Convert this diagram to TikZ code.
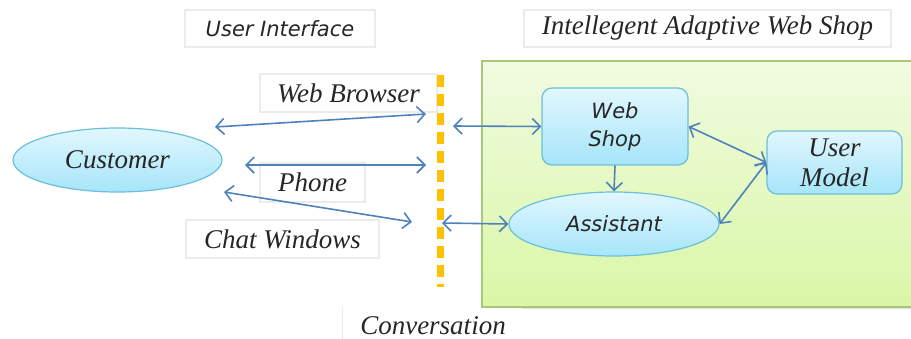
\documentclass[tikz,border=0pt]{standalone}
\usepackage{fontspec}
\setmainfont{Liberation Serif}
\newfontfamily\sansit{DejaVu Sans}
\usetikzlibrary{shapes.geometric,arrows.meta}
\definecolor{flecha}{HTML}{4F81BD}
\definecolor{borde}{HTML}{6DBFD8}
\definecolor{celesteA}{HTML}{E1F7FE}
\definecolor{celesteB}{HTML}{A6E5F9}
\definecolor{verdeA}{HTML}{F1FBE1}
\definecolor{verdeB}{HTML}{D9F7A6}
\definecolor{verdeborde}{HTML}{A9C97A}
\definecolor{naranja}{HTML}{FFC000}
\tikzset{
  serif/.style={font=\fontsize{13.5}{15}\selectfont\itshape},
  sans/.style={font=\sansit\fontsize{10.5}{14}\selectfont\itshape},
  etiqueta/.style={draw=gray!16,line width=0.6pt,inner sep=0,text=black!85},
  burbuja/.style={ellipse,draw=borde,line width=0.6pt,top color=celesteA,bottom color=celesteB,inner sep=0,text=black!85},
  caja/.style={rectangle,rounded corners=5pt,draw=borde,line width=0.6pt,top color=celesteA,bottom color=celesteB,inner sep=0,align=center,text=black!85},
  enlace/.style={draw=flecha,line width=0.8pt,{Straight Barb[length=4pt,width=8pt]}-{Straight Barb[length=4pt,width=8pt]}},
  directo/.style={draw=flecha,line width=0.8pt,-{Straight Barb[length=4pt,width=8pt]}}
}
\begin{document}
\begin{tikzpicture}[x=0.5pt,y=-0.5pt]
    \useasboundingbox (0,0) rectangle (911,338);
    \clip (0,0) rectangle (911,338);

    % caja de la tienda
    \fill[gray!25] (522,305) rectangle (930,309);
    \draw[draw=verdeborde,line width=0.8pt,top color=verdeA,bottom color=verdeB] (482,61) rectangle (930,307);

    % titulos
    \node[etiqueta,sans,minimum width=95pt,minimum height=18.5pt] (ui) at (280,28.5) {User Interface};
    \node[etiqueta,serif,minimum width=183.5pt,minimum height=18.5pt] (iaws) at (707.5,28.5) {Intellegent Adaptive Web Shop};
    \node[etiqueta,serif,minimum width=88.5pt,minimum height=19pt] (wb) at (348.5,93) {Web Browser};
    \node[etiqueta,serif,minimum width=52.5pt,minimum height=19.5pt] (ph) at (312.5,182.5) {Phone};
    \node[etiqueta,serif,minimum width=96.5pt,minimum height=19pt] (cw) at (282.5,239) {Chat Windows};
    \node[serif,inner sep=0,text=black!85,minimum width=90pt,minimum height=19pt] (conv) at (433,326) {Conversation};
    \draw[gray!16,line width=0.6pt] (conv.north west) -- (conv.south west);

    % linea de conversacion
    \draw[naranja,line width=3.5pt,dash pattern=on 6pt off 3.5pt] (440,75) -- (440,287);

    % nodos
    \node[burbuja,serif,minimum width=104.5pt,minimum height=32pt] (cust) at (117.5,160) {Customer};
    \node[caja,sans,minimum width=73pt,minimum height=38.5pt] (ws) at (615,126.5) {Web\\Shop};
    \node[caja,serif,minimum width=67.5pt,minimum height=31.5pt] (um) at (834.5,162.5) {User\\Model};
    \node[burbuja,sans,minimum width=105pt,minimum height=32pt] (as) at (614,224) {Assistant};

    % extremos de las flechas
    \foreach \n/\x/\y in {c1/215/127, d1/426/114, c2/245/165, d2/426/165,
                          c3/224/192, d3/412/222, d4/453/126, d5/442/223}{
      \coordinate (\n) at (\x,\y);
    }

    % flechas
    \draw[enlace] (c1) -- (d1);
    \draw[enlace] (c2) -- (d2);
    \draw[enlace] (c3) -- (d3);
    \draw[enlace] (d4) -- (ws.west);
    \draw[enlace] (d5) -- (as.west);
    \draw[directo] (ws.south) -- (as.north);
    \draw[enlace] (ws.east) -- (um.west);
    \draw[enlace] (as.east) -- (um.west);
  \end{tikzpicture}
\end{document}
